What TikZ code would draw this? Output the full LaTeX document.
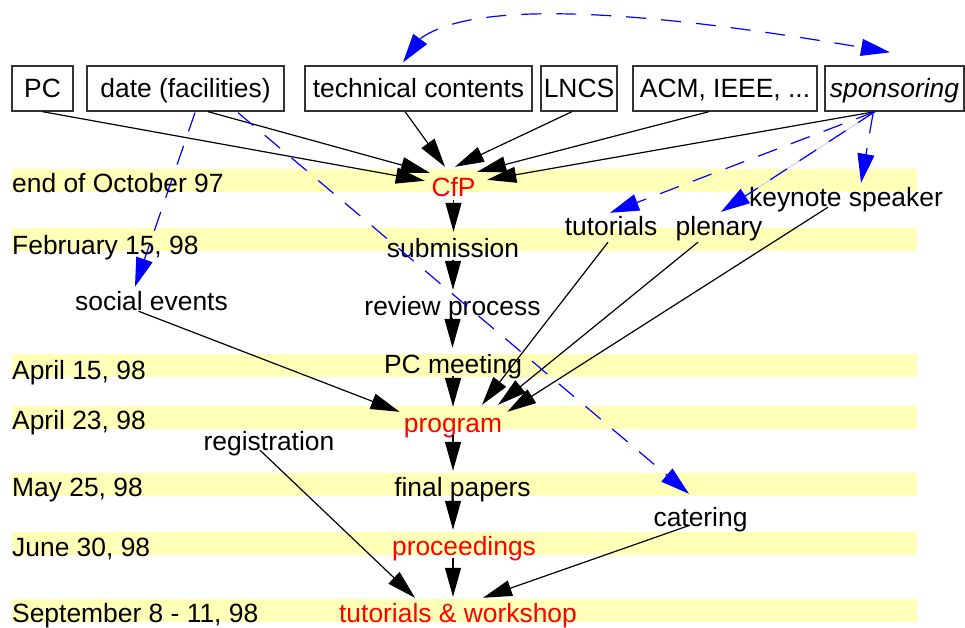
\documentclass[tikz,border=0pt]{standalone}
\usepackage{fontspec}
\setmainfont{Liberation Sans}
\usetikzlibrary{arrows.meta,calc,bending}
\definecolor{band}{RGB}{255,255,184}
\begin{document}
\begin{tikzpicture}[x=1pt,y=-1pt,
  every node/.style={font=\fontsize{26.4pt}{30pt}\selectfont},
  box/.style={draw=black!80, line width=1.3pt, inner sep=0pt, minimum height=45pt,
              text height=19pt, text depth=0pt},
  lbl/.style={anchor=base, inner sep=3pt, text height=22pt, text depth=0pt},
  red lbl/.style={lbl, text=red},
  datelbl/.style={anchor=base west, inner sep=0pt},
  flow/.style={line width=1.2pt, -{Triangle[length=29pt,width=16pt]}},
  link/.style={blue, line width=1.2pt, dash pattern=on 20pt off 15pt,
               -{Triangle[length=29pt,width=17pt]}},
]
\useasboundingbox (0,0) rectangle (965,628);

% timeline bands
\foreach \t in {169,228,354,406,473,532,599}
  \fill[band] (12,\t) rectangle (917,\t+23);

% dates
\node[datelbl] (d1) at (12,193) {end of October 97};
\node[datelbl] (d2) at (12,254) {February 15, 98};
\node[datelbl] (d3) at (12,379) {April 15, 98};
\node[datelbl] (d4) at (12,429) {April 23, 98};
\node[datelbl] (d5) at (12,496) {May 25, 98};
\node[datelbl] (d6) at (12,556) {June 30, 98};
\node[datelbl] (d7) at (12,622) {September 8 - 11, 98};

% inputs
\node[box, minimum width=61pt]  (pc)    at (42.5,88.5)  {PC};
\node[box, minimum width=197pt] (date)  at (185.5,88.5) {date (facilities)};
\node[box, minimum width=227pt] (tech)  at (418.5,88.5) {technical contents};
\node[box, minimum width=76pt]  (lncs)  at (579,88.5)   {LNCS};
\node[box, minimum width=184pt] (acm)   at (725,88.5)   {ACM, IEEE, ...};
\node[box, minimum width=139pt] (spons) at (894.5,88.5) {\itshape sponsoring};

% main flow
\node[red lbl] (cfp)  at (453.5,197) {CfP};
\node[lbl]     (sub)  at (453,257)   {submission};
\node[lbl]     (rev)  at (452.5,315) {review process};
\node[lbl]     (pcm)  at (453,373)   {PC meeting};
\node[red lbl] (prog) at (453,432)   {program};
\node[lbl]     (fin)  at (462.5,496) {final papers};
\node[red lbl] (proc) at (464,555)   {proceedings};
\node[red lbl] (work) at (458,622)   {tutorials \& workshop};

% side items
\node[lbl] (social) at (151.5,310) {social events};
\node[lbl] (reg)    at (269,450)   {registration};
\node[lbl] (cat)    at (700.5,526) {catering};
\node[lbl] (tut)    at (611,235)   {tutorials};
\node[lbl] (plen)   at (719,235)   {plenary};
\node[lbl] (key)    at (846,207)   {keynote speaker};

% vertical chain
\draw[flow] (cfp.south) -- (cfp.south |- sub.north);
\draw[flow] (sub.south) -- (sub.south |- rev.north);
\draw[flow] (rev.south) -- (rev.south |- pcm.north);
\draw[flow] (pcm.south) -- (pcm.south |- prog.north);
\draw[flow] (prog.south) -- (prog.south |- fin.north);
\draw[flow] (prog.south |- fin.south) -- (prog.south |- proc.north);
\draw[flow] (prog.south |- proc.south) -- (prog.south |- work.north);

% inputs to the call for papers
\draw[flow] (pc.south) -- ($(cfp.north west)+(-3.5,9)$);
\draw[flow] ($(date.south)+(22.5,0)$) -- ($(cfp.north west)+(1.5,1)$);
\draw[flow] ($(tech.south)+(-13.5,0)$) -- ($(cfp.north)+(-8.5,-5)$);
\draw[flow] ($(lncs.south)+(-7,0)$) -- ($(cfp.north)+(1.5,-5)$);
\draw[flow] ($(acm.south)+(-16,0)$) -- ($(cfp.north east)+(-1.5,0)$);
\draw[flow] ($(spons.south)+(-19.5,0)$) -- ($(cfp.north east)+(8.5,8)$);

% inputs to the program
\draw[flow] ($(social.south)+(-13,-2)$) -- ($(prog.north west)+(-1,5)$);
\draw[flow] ($(tut.south)+(-3,4)$) -- ($(prog.north)+(29,-2)$);
\draw[flow] ($(plen.south)+(-21,4)$) -- ($(prog.north)+(45,-2)$);
\draw[flow] ($(key.south)+(-18,-3)$) -- ($(prog.north east)+(2,5)$);

% inputs to the event
\draw[flow] ($(reg.south)+(-9,-3)$) -- ($(work.north)+(-43,1)$);
\draw[flow] ($(cat.south)+(-10.5,-4)$) -- ($(work.north)+(25,1)$);

% dependencies (dashed)
\draw[link, {Triangle[length=29pt,width=17pt,flex]}-{Triangle[length=29pt,width=17pt,flex]}]
  ($(tech.north)+(-15.5,-3)$) .. controls +(17,-63) and +(-300,-53) .. ($(spons.north)+(-4.5,-13)$);
\draw[link] ($(date.south)+(9.5,1)$) -- ($(social.north)+(-16.5,2)$);
\draw[link] ($(date.south)+(52.5,1)$) -- ($(cat.north)+(-11.5,-7)$);
\draw[link] ($(spons.south)+(-19.5,0)$) -- ($(tut.north)+(-1,3)$);
\draw[blue!30, line width=0.6pt] ($(spons.south)+(-19.5,0)$) -- ($(plen.north)+(2,2)$);
\draw[link] ($(spons.south)+(-19.5,0)$) -- ($(plen.north)+(2,2)$);
\draw[link] ($(spons.south)+(-21.5,2)$) -- ($(key.north)+(15,1)$);
\end{tikzpicture}
\end{document}
